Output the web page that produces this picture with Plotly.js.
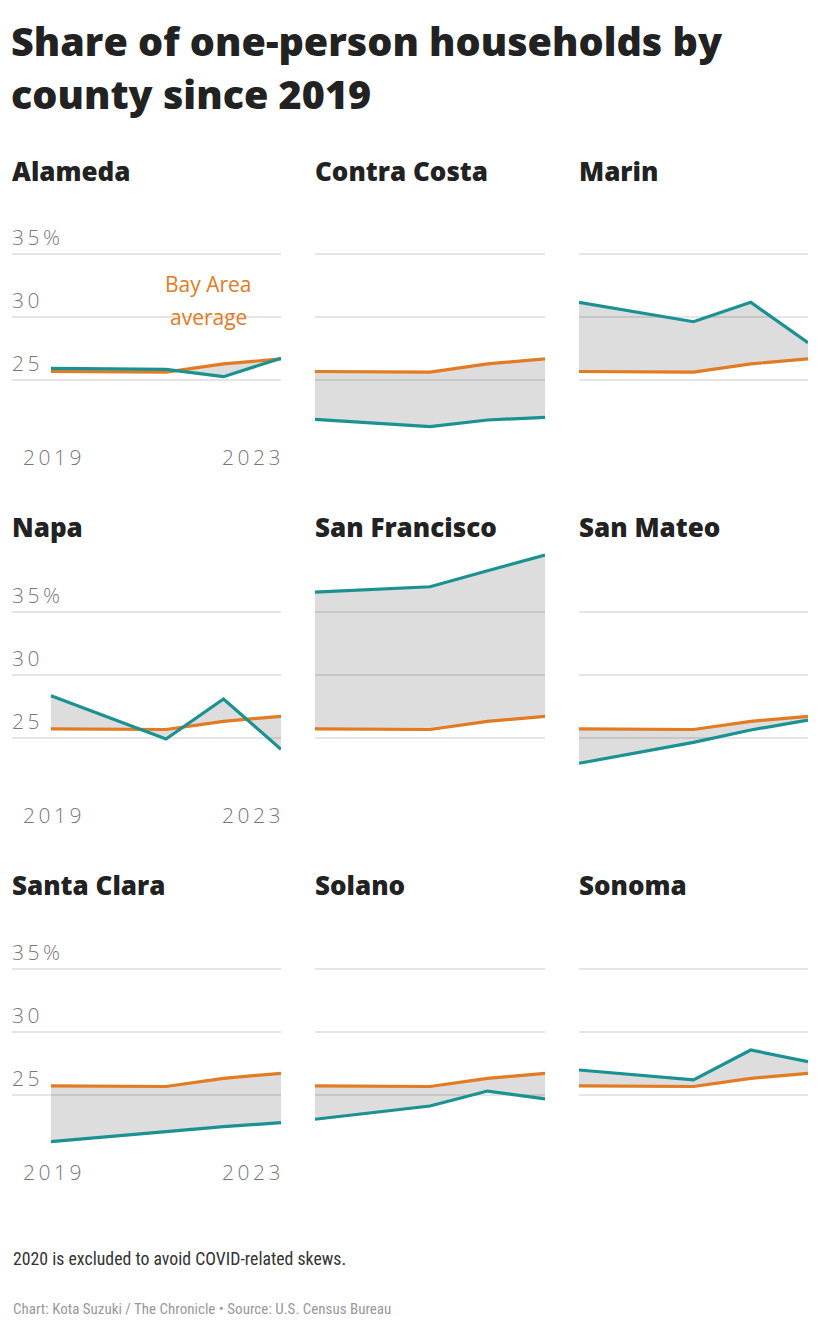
<!DOCTYPE html>
<html>
<head>
<meta charset="utf-8">
<script src="https://cdn.plot.ly/plotly-3.0.1.min.js"></script>
<style>
  html, body { margin: 0; padding: 0; background: #fff; }
  #chart { width: 820px; height: 1336px; }
</style>
</head>
<body>
<div id="chart"></div>
<script>
// ---- Data ----
const years = [2019, 2021, 2022, 2023];
const bayAreaAverage = [25.7, 25.65, 26.3, 26.7];
const counties = ['Alameda', 'Contra Costa', 'Marin', 'Napa', 'San Francisco', 'San Mateo', 'Santa Clara', 'Solano', 'Sonoma'];
const alameda      = [25.95, 25.87, 25.29, 26.75];
const contraCosta  = [21.9, 21.32, 21.85, 22.06];
const marin        = [31.19, 29.65, 31.19, 27.98];
const napa         = [28.33, 24.9, 28.07, 24.08];
const sanFrancisco = [36.56, 36.98, 38.25, 39.5];
const sanMateo     = [22.97, 24.63, 25.61, 26.4];
const santaClara   = [21.27, 22.06, 22.46, 22.78];
const solano       = [23.05, 24.1, 25.29, 24.66];
const sonoma       = [26.96, 26.17, 28.55, 27.62];
const countyValues = [alameda, contraCosta, marin, napa, sanFrancisco, sanMateo, santaClara, solano, sonoma];
const yTickVals = [25, 30, 35];
const yTickText = ['25', '30', '35%'];
const xTickText = ['2019', '2023'];
const titleLines = ['Share of one-person households by', 'county since 2019'];
const noteText = '2020 is excluded to avoid COVID-related skews.';
const sourceText = 'Chart: Kota Suzuki / The Chronicle • Source: U.S. Census Bureau';

// ---- Layout geometry (pixels) ----
const W = 820, H = 1336;
const px = v => v / W;
const py = v => 1 - v / H;
const tracked = s => s.split('').join('\u2009');  // wide letter spacing look
const ORANGE = '#e27b22';
const TEAL = '#1a9192';
const HEAD = '"Open Sans", Lato, sans-serif';
const NOTE = '"Roboto Condensed", "Liberation Sans Narrow", Roboto, sans-serif';
const colLeft = [51, 315, 579];      // pixel of 2019
const colRight = [281, 545, 808];    // pixel of 2023
const gridLeft = [12, 315, 579];
const row25 = [380.3, 737.7, 1094.7]; // pixel of 25%
const pxPerUnit = 12.6;
const yMin = 20, yMax = 40;
const rowTitleY = [171, 527, 885];
const xLabelY = [457, 815, 1172];
const tickFont = {size: 21, color: '#777', family: HEAD, weight: 300};

const traces = [];
const layout = {
  width: W, height: H,
  margin: {l: 0, r: 0, t: 0, b: 0},
  paper_bgcolor: '#fff', plot_bgcolor: 'rgba(0,0,0,0)',
  showlegend: false,
  font: {family: HEAD, color: '#222'},
  annotations: [], shapes: []
};

counties.forEach((name, i) => {
  const r = Math.floor(i / 3), c = i % 3;
  const sfx = i === 0 ? '' : String(i + 1);
  const xa = 'x' + sfx, ya = 'y' + sfx;
  const pxPerYear = (colRight[c] - colLeft[c]) / 4;
  const xStart = 2019 - (colLeft[c] - gridLeft[c]) / pxPerYear;
  const yTopPx = row25[r] - (yMax - 25) * pxPerUnit;
  const yBotPx = row25[r] + (25 - yMin) * pxPerUnit;

  layout['xaxis' + sfx] = {
    domain: [px(gridLeft[c]), px(colRight[c])],
    range: [xStart, 2023], anchor: ya,
    showgrid: false, zeroline: false, showticklabels: false, showline: false, fixedrange: true
  };
  layout['yaxis' + sfx] = {
    domain: [py(yBotPx), py(yTopPx)],
    range: [yMin, yMax], anchor: xa,
    tickvals: yTickVals, showgrid: true, gridcolor: '#e5e5e5', gridwidth: 2,
    zeroline: false, showticklabels: false, showline: false, fixedrange: true
  };

  traces.push({
    x: years, y: bayAreaAverage, xaxis: xa, yaxis: ya,
    type: 'scatter', mode: 'lines', line: {color: ORANGE, width: 3.2}, hoverinfo: 'skip'
  });
  traces.push({
    x: years, y: countyValues[i], xaxis: xa, yaxis: ya,
    type: 'scatter', mode: 'lines', fill: 'tonexty', fillcolor: 'rgba(0,0,0,0.135)',
    line: {color: TEAL, width: 3.2}, hoverinfo: 'skip'
  });

  // panel title
  layout.annotations.push({
    text: name, xref: 'paper', yref: 'paper', x: px(gridLeft[c] - 2), y: py(rowTitleY[r]),
    xanchor: 'left', yanchor: 'middle', showarrow: false,
    font: {size: 26, color: '#222', family: HEAD, weight: 800}
  });

  if (c === 0) {
    yTickVals.forEach((v, k) => {
      layout.annotations.push({
        text: tracked(yTickText[k]), xref: 'paper', yref: 'paper', x: px(10), y: py(row25[r] - (v - 25) * pxPerUnit - 17),
        xanchor: 'left', yanchor: 'middle', showarrow: false, font: tickFont
      });
    });
    layout.annotations.push({
      text: tracked(xTickText[0]), xref: 'paper', yref: 'paper', x: px(52), y: py(xLabelY[r]),
      xanchor: 'center', yanchor: 'middle', showarrow: false, font: tickFont
    });
    layout.annotations.push({
      text: tracked(xTickText[1]), xref: 'paper', yref: 'paper', x: px(282), y: py(xLabelY[r]),
      xanchor: 'right', yanchor: 'middle', showarrow: false, font: tickFont
    });
  }
});

// Bay Area average label
['Bay Area', 'average'].forEach((t, k) => {
  layout.annotations.push({
    text: t, xref: 'paper', yref: 'paper', x: px(208), y: py(284 + k * 33),
    xanchor: 'center', yanchor: 'middle', showarrow: false,
    font: {size: 21, color: ORANGE, family: HEAD}
  });
});

// Title
titleLines.forEach((t, k) => {
  layout.annotations.push({
    text: t, xref: 'paper', yref: 'paper', x: px(9), y: py(41 + k * 53),
    xanchor: 'left', yanchor: 'middle', showarrow: false,
    font: {size: 39.5, color: '#222', family: HEAD, weight: 800}
  });
});

// Notes
layout.annotations.push({
  text: noteText, xref: 'paper', yref: 'paper', x: px(11), y: py(1258),
  xanchor: 'left', yanchor: 'middle', showarrow: false,
  font: {size: 17.8, color: '#333', family: NOTE}
});
layout.annotations.push({
  text: sourceText, xref: 'paper', yref: 'paper', x: px(11), y: py(1309),
  xanchor: 'left', yanchor: 'middle', showarrow: false,
  font: {size: 15, color: '#999', family: NOTE}
});

Plotly.newPlot('chart', traces, layout, {displayModeBar: false, staticPlot: true});
</script>
</body>
</html>
